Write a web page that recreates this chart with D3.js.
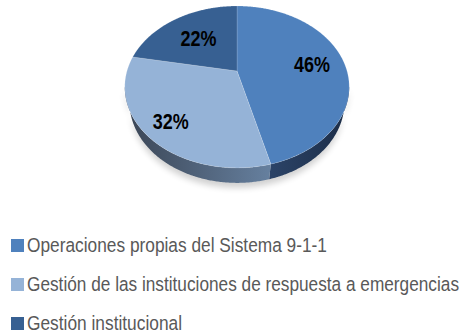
<!DOCTYPE html>
<html>
<head>
<meta charset="utf-8">
<script src="https://cdn.jsdelivr.net/npm/d3@7/dist/d3.min.js"></script>
<style>
  body { margin: 0; background: #ffffff; }
  svg { display: block; }
</style>
</head>
<body>
<svg id="chart" width="466" height="336"></svg>
<script>
// Slice data
const categories = [
  "Operaciones propias del Sistema 9-1-1",
  "Gestión de las instituciones de respuesta a emergencias",
  "Gestión institucional"
];
const values = [46, 32, 22];
const valueLabels = ["46%", "32%", "22%"];

// Styling
const topColors = ["#4f81bd", "#95b3d7", "#376092"];
const rimColors = [["#1c2d47", "#2b4367"], ["#66809f", "#3a4555"], ["#243f63", "#2e4f7a"]];
const labelRadius = [0.70, 0.78, 0.60];
const legendWidths = [300, 432, 155];

const svg = d3.select("#chart");
const defs = svg.append("defs");

// Perspective camera for the tilted disc
const cx = 237, cy = 71;          // screen position of the disc centre
const tilt = Math.PI / 4;
const s = Math.sin(tilt), c = Math.cos(tilt);
const D = 3.59, k = 395, thick = 0.216;

function proj(theta, r, y) {
  const x = r * Math.sin(theta), z = r * Math.cos(theta);
  const depth = D - y * s + z * c;
  return [cx + k * x / depth, cy - k * (y * c + z * s) / depth];
}

const pie = d3.pie().sort(null).value(d => d)(values);

function arcPoints(a0, a1, r, y) {
  const n = Math.max(2, Math.ceil((a1 - a0) / 0.01));
  return d3.range(n + 1).map(i => proj(a0 + (a1 - a0) * i / n, r, y));
}

// Visible front rim range (silhouette of the disc)
const sil = Math.acos(-c / D);
const rimLo = sil, rimHi = 2 * Math.PI - sil;

// Shadow filter
const shadow = defs.append("filter").attr("id", "shadow")
  .attr("x", "-20%").attr("y", "-20%").attr("width", "140%").attr("height", "160%");
shadow.append("feGaussianBlur").attr("stdDeviation", 3);

const line = d3.line();

// Soft shadow under the disc
const shadowPts = arcPoints(rimLo, rimHi, 1.0, -thick - 0.03);
svg.append("path")
  .attr("d", line(arcPoints(rimLo, rimHi, 1.0, 0).concat(shadowPts.reverse())) + "Z")
  .attr("fill", "#000").attr("opacity", 0.18)
  .attr("transform", "translate(0,3)")
  .attr("filter", "url(#shadow)");

// Side walls
pie.forEach((d, i) => {
  const a0 = Math.max(d.startAngle, rimLo), a1 = Math.min(d.endAngle, rimHi);
  if (a1 <= a0) return;
  const top = arcPoints(a0, a1, 1, 0);
  const bot = arcPoints(a0, a1, 1, -thick).reverse();
  const g = defs.append("linearGradient").attr("id", "rim" + i)
    .attr("gradientUnits", "userSpaceOnUse")
    .attr("x1", top[0][0]).attr("y1", 0)
    .attr("x2", top[top.length - 1][0]).attr("y2", 0);
  g.append("stop").attr("offset", "0%").attr("stop-color", rimColors[i][0]);
  g.append("stop").attr("offset", "100%").attr("stop-color", rimColors[i][1]);
  svg.append("path")
    .attr("d", line(top.concat(bot)) + "Z")
    .attr("fill", `url(#rim${i})`);
});

// Top faces
pie.forEach((d, i) => {
  const pts = [proj(0, 0, 0)].concat(arcPoints(d.startAngle, d.endAngle, 1, 0));
  svg.append("path")
    .attr("d", line(pts) + "Z")
    .attr("fill", topColors[i])
    .attr("stroke", "rgba(255,255,255,0.25)")
    .attr("stroke-width", 0.6)
    .attr("stroke-linejoin", "round");
});

// Value labels
pie.forEach((d, i) => {
  const mid = (d.startAngle + d.endAngle) / 2;
  const [lx, ly] = proj(mid, labelRadius[i], 0);
  svg.append("text")
    .attr("x", lx).attr("y", ly)
    .attr("dy", "0.36em")
    .attr("text-anchor", "middle")
    .attr("font-family", "'Liberation Sans', Arial, sans-serif")
    .attr("font-weight", "bold")
    .attr("font-size", 22.5)
    .attr("textLength", 36)
    .attr("lengthAdjust", "spacingAndGlyphs")
    .attr("fill", "#000")
    .text(valueLabels[i]);
});

// Legend: 17px glyphs stretched vertically to the taller face of the original type
const legendY = d3.scalePoint().domain(categories).range([252, 330]);
const legend = svg.append("g");
categories.forEach((name, i) => {
  const y = legendY(name);
  legend.append("rect")
    .attr("x", 11).attr("y", y - 13)
    .attr("width", 13).attr("height", 13)
    .attr("fill", topColors[i]);
  legend.append("text")
    .attr("transform", `translate(27,${y}) scale(1,1.17)`)
    .attr("font-family", "'Liberation Sans', Arial, sans-serif")
    .attr("font-size", 17)
    .attr("textLength", legendWidths[i])
    .attr("lengthAdjust", "spacingAndGlyphs")
    .attr("fill", "#595959")
    .text(name);
});
</script>
</body>
</html>
